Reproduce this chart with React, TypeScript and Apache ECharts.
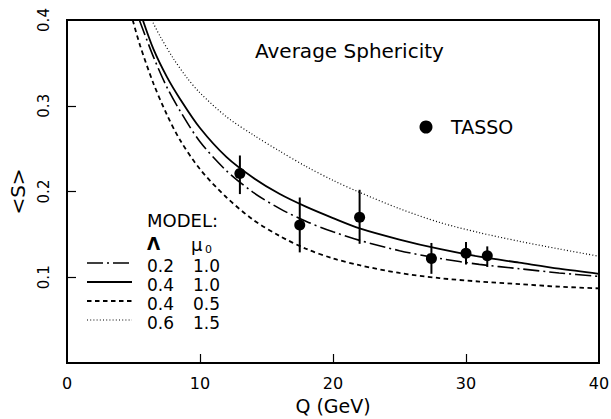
import React, { useEffect, useRef } from "react";
import * as echarts from "echarts";

// TASSO data
const tassoQ = [13, 17.5, 22, 27.4, 30, 31.6];
const tassoS = [0.221, 0.161, 0.17, 0.122, 0.128, 0.125];
const tassoLow = [0.197, 0.129, 0.139, 0.104, 0.115, 0.112];
const tassoHigh = [0.242, 0.193, 0.202, 0.14, 0.141, 0.136];

// Model curves
// Λ=0.2, μ0=1.0 (dash-dot)
const curveA_Q = [5.44, 6.5, 7.5, 8.5, 10, 12, 14, 16, 18, 20, 22, 25, 28, 31, 34, 37, 40];
const curveA_S = [0.4, 0.357, 0.322, 0.294, 0.258, 0.224, 0.199, 0.18, 0.165, 0.153, 0.143, 0.131, 0.122, 0.115, 0.11, 0.105, 0.101];
// Λ=0.4, μ0=1.0 (solid)
const curveB_Q = [5.7, 6.5, 7.5, 8.5, 10, 12, 14, 16, 18, 20, 22, 25, 28, 31, 34, 37, 40];
const curveB_S = [0.4, 0.366, 0.334, 0.308, 0.274, 0.24, 0.216, 0.197, 0.182, 0.169, 0.157, 0.144, 0.133, 0.124, 0.117, 0.11, 0.104];
// Λ=0.4, μ0=0.5 (dashed)
const curveC_Q = [4.94, 5.5, 6.5, 7.5, 8.5, 10, 12, 14, 16, 18, 20, 22, 25, 28, 31, 34, 37, 40];
const curveC_S = [0.4, 0.37, 0.326, 0.29, 0.26, 0.226, 0.193, 0.167, 0.148, 0.133, 0.122, 0.114, 0.105, 0.099, 0.095, 0.092, 0.089, 0.087];
// Λ=0.6, μ0=1.5 (dotted)
const curveD_Q = [6.37, 7, 8, 9, 10, 12, 14, 16, 18, 20, 22, 25, 28, 31, 34, 37, 40];
const curveD_S = [0.4, 0.381, 0.355, 0.333, 0.315, 0.287, 0.266, 0.247, 0.229, 0.213, 0.199, 0.18, 0.164, 0.152, 0.142, 0.133, 0.1245];

// Tick labels
const xTicks = [0, 10, 20, 30, 40];
const yTicks = [0.1, 0.2, 0.3, 0.4];

// Legend rows
const legendLambda = ["0.2", "0.4", "0.4", "0.6"];
const legendMu = ["1.0", "1.0", "0.5", "1.5"];

const FONT = "DejaVu Sans";

const DASH_DOT = [16, 4, 2, 4];
const DASHED = [4.5, 3.5];
const DOTTED = [1, 2.2];

export default function App() {
  const ref = useRef<HTMLDivElement>(null);
  useEffect(() => {
    document.body.style.margin = "0";
    const chart = echarts.init(ref.current!, null, { renderer: "svg" });
    const mk = (xs: number[], ys: number[]) => xs.map((x, i) => [x, ys[i]]);
    const lineSeries = (name: string, xs: number[], ys: number[], type: any, width: number) => ({
      name,
      type: "line",
      data: mk(xs, ys),
      smooth: 0.3,
      showSymbol: false,
      symbol: "none",
      clip: true,
      lineStyle: { color: "#000", width, type },
      z: 2,
    });
    const legendStyles = [
      { dash: DASH_DOT, w: 1.6 },
      { dash: null, w: 1.8 },
      { dash: DASHED, w: 1.8 },
      { dash: DOTTED, w: 1.2 },
    ];
    const rowY = [265.5, 284.5, 303.5, 322.5];
    const graphics: any[] = [
      {
        type: "text",
        x: 255,
        y: 51,
        style: { text: "Average Sphericity", font: `20px "${FONT}"`, fill: "#000", verticalAlign: "middle" },
      },
      { type: "circle", shape: { cx: 426, cy: 127, r: 6.5 }, style: { fill: "#000" } },
      {
        type: "text",
        x: 451,
        y: 127,
        style: { text: "TASSO", font: `19px "${FONT}"`, fill: "#000", verticalAlign: "middle" },
      },
      {
        type: "text",
        x: 147,
        y: 220,
        style: { text: "MODEL:", font: `18px "${FONT}"`, fill: "#000", verticalAlign: "middle" },
      },
      {
        type: "text",
        x: 147,
        y: 244,
        style: { text: "Λ", font: `bold 17px "${FONT}"`, fill: "#000", verticalAlign: "middle" },
      },
      {
        type: "text",
        x: 191,
        y: 244,
        style: { text: "μ", font: `18px "${FONT}"`, fill: "#000", verticalAlign: "middle" },
      },
      {
        type: "text",
        x: 205,
        y: 249,
        style: { text: "0", font: `11px "${FONT}"`, fill: "#000", verticalAlign: "middle" },
      },
    ];
    legendLambda.forEach((lam, i) => {
      const st = legendStyles[i];
      graphics.push({
        type: "line",
        shape: { x1: 87, y1: rowY[i] - 2.5, x2: 132, y2: rowY[i] - 2.5 },
        style: { stroke: "#000", lineWidth: st.w, lineDash: st.dash || undefined },
      });
      graphics.push({
        type: "text",
        x: 147,
        y: rowY[i],
        style: { text: lam, font: `17px "${FONT}"`, fill: "#000", verticalAlign: "middle" },
      });
      graphics.push({
        type: "text",
        x: 193,
        y: rowY[i],
        style: { text: legendMu[i], font: `17px "${FONT}"`, fill: "#000", verticalAlign: "middle" },
      });
    });

    chart.setOption({
      animation: false,
      backgroundColor: "#fff",
      grid: {
        left: 67,
        right: 12,
        top: 20,
        bottom: 56,
        show: true,
        borderColor: "#000",
        borderWidth: 2,
        containLabel: false,
        outerBoundsMode: "none",
      },
      xAxis: {
        type: "value",
        min: 0,
        max: 40,
        interval: 10,
        name: "Q (GeV)",
        nameLocation: "middle",
        nameGap: 33,
        nameTextStyle: { fontFamily: FONT, fontSize: 19, color: "#000" },
        axisLine: { show: true, onZero: false, lineStyle: { color: "#000", width: 2 } },
        axisTick: {
          show: true,
          inside: true,
          length: 9,
          lineStyle: { color: "#000", width: 1.2 },
          customValues: xTicks.slice(1, -1),
        },
        axisLabel: {
          fontFamily: FONT,
          fontSize: 16,
          color: "#000",
          margin: 12,
          customValues: xTicks,
        },
        splitLine: { show: false },
      },
      yAxis: {
        type: "value",
        min: 0,
        max: 0.4,
        interval: 0.1,
        name: "<S>",
        nameLocation: "middle",
        nameRotate: 90,
        nameGap: 35,
        nameTextStyle: { fontFamily: FONT, fontSize: 20, color: "#000" },
        axisLine: { show: true, onZero: false, lineStyle: { color: "#000", width: 2 } },
        axisTick: {
          show: true,
          inside: true,
          length: 9,
          lineStyle: { color: "#000", width: 1.2 },
          customValues: yTicks.slice(0, -1),
        },
        axisLabel: {
          fontFamily: FONT,
          fontSize: 15,
          color: "#000",
          rotate: 90,
          margin: 16,
          customValues: yTicks,
          formatter: (v: number) => v.toFixed(1),
        },
        splitLine: { show: false },
      },
      graphic: graphics,
      series: [
        lineSeries("0.2 1.0", curveA_Q, curveA_S, DASH_DOT, 1.6),
        lineSeries("0.4 1.0", curveB_Q, curveB_S, "solid", 1.8),
        lineSeries("0.4 0.5", curveC_Q, curveC_S, DASHED, 1.8),
        lineSeries("0.6 1.5", curveD_Q, curveD_S, DOTTED, 1.2),
        {
          name: "TASSO err",
          type: "custom",
          data: tassoQ.map((q, i) => [q, tassoLow[i], tassoHigh[i]]),
          encode: { x: 0, y: [1, 2] },
          renderItem: (params: any, api: any) => {
            const x = api.value(0);
            const p1 = api.coord([x, api.value(1)]);
            const p2 = api.coord([x, api.value(2)]);
            return {
              type: "line",
              shape: { x1: p1[0], y1: p1[1], x2: p2[0], y2: p2[1] },
              style: { stroke: "#000", lineWidth: 2 },
            };
          },
          z: 3,
        },
        {
          name: "TASSO",
          type: "scatter",
          data: tassoQ.map((q, i) => [q, tassoS[i]]),
          symbol: "circle",
          symbolSize: 11,
          itemStyle: { color: "#000", opacity: 1 },
          z: 4,
        },
      ],
    });
    return () => chart.dispose();
  }, []);
  return <div ref={ref} style={{ width: 611, height: 419, position: "absolute", left: 0, top: 0 }} />;
}
